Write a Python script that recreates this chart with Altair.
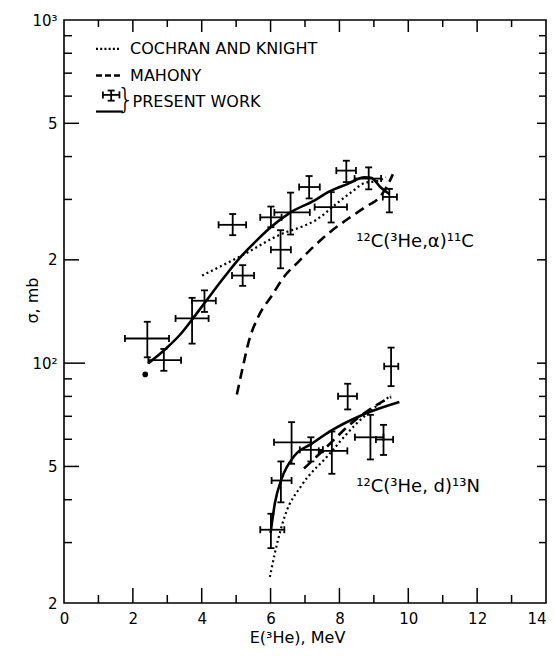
import altair as alt
import pandas as pd

# ---------------- measured points: 12C(3He,alpha)11C ----------------
a_x   = [2.42, 2.90, 3.72, 4.08, 4.90, 5.19, 6.29, 6.01, 6.58, 7.12, 7.76, 8.20, 8.85, 9.45]
a_y   = [118, 102, 135, 152, 253, 180, 214, 266, 275, 326, 285, 364, 345, 305]
a_xlo = [1.77, 2.45, 3.24, 3.72, 4.49, 4.88, 6.01, 5.70, 6.11, 6.83, 7.28, 7.91, 8.44, 9.26]
a_xhi = [3.05, 3.40, 4.20, 4.41, 5.29, 5.52, 6.59, 6.32, 7.14, 7.43, 8.22, 8.48, 9.21, 9.67]
a_ylo = [104, 95, 114, 141, 236, 168, 189, 249, 237, 302, 257, 337, 321, 275]
a_yhi = [132, 110, 155, 163, 272, 193, 244, 286, 314, 351, 315, 389, 372, 322]

# ---------------- measured points: 12C(3He,d)13N ----------------
d_x   = [6.01, 6.30, 6.61, 7.17, 7.78, 8.24, 8.90, 9.28, 9.50]
d_y   = [32.7, 45.5, 58.8, 55.9, 55.5, 80.1, 60.8, 59.9, 97.9]
d_xlo = [5.70, 6.03, 6.10, 6.85, 7.40, 7.96, 8.45, 9.06, 9.30]
d_xhi = [6.40, 6.61, 7.17, 7.52, 8.23, 8.51, 9.28, 9.56, 9.71]
d_ylo = [28.9, 39.3, 50.9, 51.7, 47.6, 73.3, 52.4, 54.0, 85.7]
d_yhi = [36.4, 51.7, 67.3, 60.8, 63.2, 87.1, 70.7, 66.1, 111]

# isolated filled dot
dot_x = [2.36]
dot_y = [92.7]

# ---------------- curves ----------------
# present work (solid)
a_fit_x = [2.45, 2.95, 3.40, 3.72, 4.11, 4.69, 5.17, 5.60, 6.03, 6.58, 7.28, 7.67, 8.24, 8.73, 8.92, 9.20, 9.45]
a_fit_y = [100, 110, 122, 134, 151, 180, 206, 228, 250, 275, 298, 315, 333, 348, 347, 325, 311]
d_fit_x = [6.00, 6.13, 6.32, 6.70, 7.19, 7.76, 8.63, 9.74]
d_fit_y = [32, 39.3, 46, 53.8, 58.2, 63.6, 70.4, 77]
# Cochran and Knight (dotted)
a_ck_x = [4.01, 5.17, 6.32, 7.00, 7.28, 7.96, 8.40, 8.73, 9.11, 9.35]
a_ck_y = [180, 206, 238, 252, 260, 294, 318, 335, 340, 348]
d_ck_x = [5.98, 6.13, 6.42, 6.90, 7.67, 8.44, 8.92, 9.50]
d_ck_y = [23.8, 28.1, 36, 44, 53.8, 65.8, 72.8, 80.5]
# Mahony (dashed)
a_mah_x = [5.02, 5.20, 5.36, 5.65, 6.03, 6.42, 6.80, 7.28, 7.75, 8.24, 8.75, 9.21, 9.40, 9.55]
a_mah_y = [81, 98, 115, 137, 157, 180, 197, 220, 242, 263, 285, 308, 330, 355]
d_mah_x = [6.97, 7.47, 8.44, 9.21, 9.50]
d_mah_y = [49.3, 55, 68, 76.9, 79.6]

# ---------------- axes ----------------
x_labels = [0, 2, 4, 6, 8, 10, 12, 14]
x_ticks_major = [2, 4, 6, 8, 10, 12]
x_ticks_minor = [1, 3, 5, 7, 9, 11, 13]
y_labels = [20, 50, 100, 200, 500, 1000]
y_ticks_major = [50, 200, 500]
y_ticks_decade = [100]
y_ticks_minor = [30, 40, 60, 70, 80, 90, 300, 400, 600, 700, 800, 900]

# ---------------- texts ----------------
series_text = ["¹²C(³He,α)¹¹C", "¹²C(³He, d)¹³N"]
series_tx = [8.49, 8.49]
series_ty = [226, 43.6]

legend_text = ["COCHRAN AND KNIGHT", "MAHONY", "PRESENT WORK"]
legend_tx = [1.92, 1.92, 1.99]
legend_ty = [824, 689, 578]
leg_dot_x = [0.93, 1.63]; leg_dot_y = 824
leg_dash_x = [0.93, 1.63]; leg_dash_y = 689
leg_solid_x = [0.93, 1.71]; leg_solid_y = 541
leg_cross_x = [1.37]; leg_cross_y = [605]
leg_cross_xlo = [1.13]; leg_cross_xhi = [1.61]
leg_cross_ylo = [582]; leg_cross_yhi = [623]
brace_x = [1.79]; brace_y = [582]

W, H = 482, 583
FONT = "DejaVu Sans"

xscale = alt.Scale(domain=[0, 14], nice=False, zero=False)
yscale = alt.Scale(type="log", domain=[20, 1000], nice=False)

xaxis = alt.Axis(values=x_labels, ticks=False, domain=False, grid=False,
                 labelFontSize=15, labelFont=FONT, labelColor="black", labelPadding=8,
                 labelFlush=False, labelOverlap=False,
                 labelAlign={"condition": {"test": "datum.value == 14", "value": "right"}, "value": "center"},
                 title="E(³He), MeV", titleFont=FONT, titleFontSize=16, titleFontWeight="normal",
                 titleColor="black", titleX=233, titleY=39, titleAlign="center",
                 titleBaseline="alphabetic")
yaxis = alt.Axis(values=y_labels, ticks=False, domain=False, grid=False,
                 labelExpr="datum.value == 100 ? '10²' : (datum.value == 1000 ? '10³' : ((datum.value == 20 || datum.value == 200) ? '2' : '5'))",
                 labelFontSize=15, labelFont=FONT, labelColor="black", labelPadding=7,
                 labelFlush=False, labelOverlap=False,
                 title="σ, mb", titleFont=FONT, titleFontSize=16, titleFontWeight="normal",
                 titleColor="black", titleX=-32, titleY=280, titleAngle=270,
                 titleAlign="center", titleBaseline="middle")


def X(f):
    return alt.X(f, type="quantitative", scale=xscale, axis=xaxis)


def Y(f):
    return alt.Y(f, type="quantitative", scale=yscale, axis=yaxis)


def pts(xs, ys, xlo, xhi, ylo, yhi):
    return pd.DataFrame({"x": xs, "y": ys, "xlo": xlo, "xhi": xhi, "ylo": ylo, "yhi": yhi})


pts_df = pd.concat([pts(a_x, a_y, a_xlo, a_xhi, a_ylo, a_yhi),
                    pts(d_x, d_y, d_xlo, d_xhi, d_ylo, d_yhi),
                    pts(leg_cross_x, leg_cross_y, leg_cross_xlo, leg_cross_xhi,
                        leg_cross_ylo, leg_cross_yhi)], ignore_index=True)
capv_df = pd.DataFrame({"x": list(pts_df.xlo) + list(pts_df.xhi),
                        "y": list(pts_df.y) + list(pts_df.y)})
caph_df = pd.DataFrame({"x": list(pts_df.x) + list(pts_df.x),
                        "y": list(pts_df.ylo) + list(pts_df.yhi)})

EB = 1.8
hbars = alt.Chart(pts_df).mark_rule(color="black", strokeWidth=EB).encode(x=X("xlo"), x2="xhi", y=Y("y"))
vbars = alt.Chart(pts_df).mark_rule(color="black", strokeWidth=EB).encode(x=X("x"), y=Y("ylo"), y2="yhi")
capv = alt.Chart(capv_df).mark_tick(color="black", orient="vertical", size=7, thickness=EB, opacity=1).encode(x=X("x"), y=Y("y"))
caph = alt.Chart(caph_df).mark_tick(color="black", orient="horizontal", size=7, thickness=EB, opacity=1).encode(x=X("x"), y=Y("y"))

dot = alt.Chart(pd.DataFrame({"x": dot_x, "y": dot_y})).mark_point(
    filled=True, color="black", opacity=1, size=32, shape="circle").encode(x=X("x"), y=Y("y"))


def line_df(curves):
    rows = []
    for name, xs, ys in curves:
        for i, (xv, yv) in enumerate(zip(xs, ys)):
            rows.append({"x": xv, "y": yv, "curve": name, "o": i})
    return pd.DataFrame(rows)


solid_df = line_df([("a", a_fit_x, a_fit_y), ("d", d_fit_x, d_fit_y)])
dotted_df = line_df([("a", a_ck_x, a_ck_y), ("d", d_ck_x, d_ck_y)])
dashed_df = line_df([("a", a_mah_x, a_mah_y), ("d", d_mah_x, d_mah_y)])

solid = alt.Chart(solid_df).mark_line(color="black", strokeWidth=2.6, interpolate="monotone").encode(
    x=X("x"), y=Y("y"), detail="curve:N", order="o:Q")
dotted = alt.Chart(dotted_df).mark_line(color="black", strokeWidth=2.2, strokeDash=[2, 3],
                                        interpolate="monotone").encode(
    x=X("x"), y=Y("y"), detail="curve:N", order="o:Q")
dashed = alt.Chart(dashed_df).mark_line(color="black", strokeWidth=2.6, strokeDash=[10, 6],
                                        interpolate="monotone").encode(
    x=X("x"), y=Y("y"), detail="curve:N", order="o:Q")

# legend samples
leg_df = pd.DataFrame({"x1": [leg_dot_x[0], leg_dash_x[0], leg_solid_x[0]],
                       "x2": [leg_dot_x[1], leg_dash_x[1], leg_solid_x[1]],
                       "y": [leg_dot_y, leg_dash_y, leg_solid_y],
                       "k": ["dot", "dash", "solid"]})
leg_dot = alt.Chart(leg_df[leg_df.k == "dot"]).mark_rule(color="black", strokeWidth=2.2, strokeDash=[2, 2.2]).encode(
    x=X("x1"), x2="x2", y=Y("y"))
leg_dash = alt.Chart(leg_df[leg_df.k == "dash"]).mark_rule(color="black", strokeWidth=2.4, strokeDash=[6, 3]).encode(
    x=X("x1"), x2="x2", y=Y("y"))
leg_solid = alt.Chart(leg_df[leg_df.k == "solid"]).mark_rule(color="black", strokeWidth=2.2).encode(
    x=X("x1"), x2="x2", y=Y("y"))

leg_text = alt.Chart(pd.DataFrame({"x": legend_tx, "y": legend_ty, "t": legend_text})).mark_text(
    align="left", baseline="middle", font=FONT, fontSize=16, color="black").encode(
    x=X("x"), y=Y("y"), text="t:N")
brace = alt.Chart(pd.DataFrame({"x": brace_x, "y": brace_y, "t": ["}"]})).mark_text(
    align="center", baseline="middle", font=FONT, fontSize=28, fontWeight=300, color="black").encode(
    x=X("x"), y=Y("y"), text="t:N")

series_lbl = alt.Chart(pd.DataFrame({"x": series_tx, "y": series_ty, "t": series_text})).mark_text(
    align="left", baseline="middle", font=FONT, fontSize=18, color="black").encode(
    x=X("x"), y=Y("y"), text="t:N")

# inward ticks
def xt(vals):
    return alt.Chart(pd.DataFrame({"v": vals}))


def yt(vals):
    return alt.Chart(pd.DataFrame({"v": vals}))


TK = 1.5
ticks = [
    xt(x_ticks_major).mark_rule(color="black", strokeWidth=TK).encode(x=X("v"), y=alt.value(H), y2=alt.value(H - 15)),
    xt(x_ticks_minor).mark_rule(color="black", strokeWidth=TK).encode(x=X("v"), y=alt.value(H), y2=alt.value(H - 8)),
    xt(x_ticks_major).mark_rule(color="black", strokeWidth=TK).encode(x=X("v"), y=alt.value(0), y2=alt.value(12)),
    xt(x_ticks_minor).mark_rule(color="black", strokeWidth=TK).encode(x=X("v"), y=alt.value(0), y2=alt.value(7)),
    yt(y_ticks_major).mark_rule(color="black", strokeWidth=TK).encode(y=Y("v"), x=alt.value(0), x2=alt.value(15)),
    yt(y_ticks_decade).mark_rule(color="black", strokeWidth=TK).encode(y=Y("v"), x=alt.value(0), x2=alt.value(21)),
    yt(y_ticks_minor).mark_rule(color="black", strokeWidth=TK).encode(y=Y("v"), x=alt.value(0), x2=alt.value(8)),
    yt(y_ticks_major + y_ticks_decade).mark_rule(color="black", strokeWidth=TK).encode(y=Y("v"), x=alt.value(W), x2=alt.value(W - 9)),
    yt(y_ticks_minor).mark_rule(color="black", strokeWidth=TK).encode(y=Y("v"), x=alt.value(W), x2=alt.value(W - 7)),
]

chart = alt.layer(
    *ticks, dotted, dashed, solid, hbars, vbars, capv, caph, dot,
    leg_dot, leg_dash, leg_solid, leg_text, brace, series_lbl
).properties(
    width=W, height=H,
    autosize=alt.AutoSizeParams(type="none"),
    padding={"left": 56, "top": 12, "right": 1, "bottom": 43},
    background="white",
).configure_view(stroke="black", strokeWidth=1.6).configure_axis(grid=False)

chart.save("out.html", embed_options={"renderer": "svg", "actions": False})
